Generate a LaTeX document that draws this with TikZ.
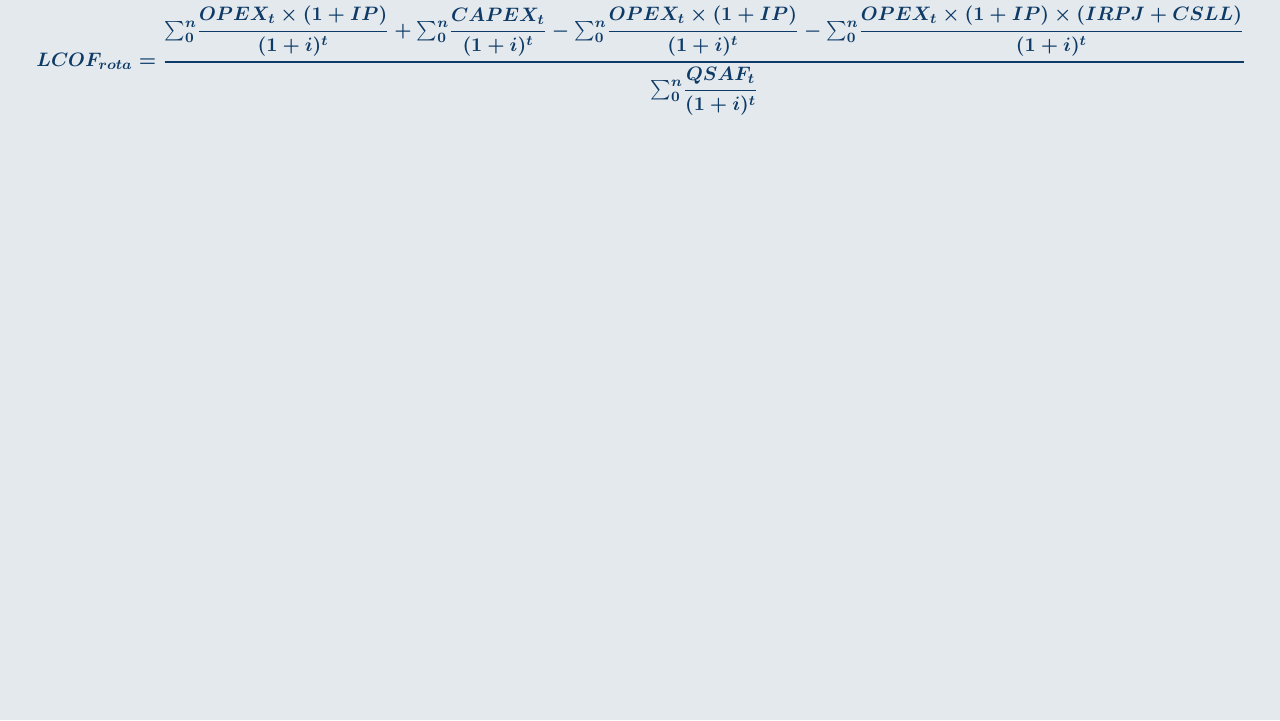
\documentclass[tikz,border=0pt]{standalone}
\usepackage{amsmath}

\definecolor{bgcolor}{HTML}{E4E9ED}
\definecolor{inkblue}{HTML}{0D3A66}

\newcommand{\sumzn}{{\textstyle\sum_{0}^{n}}}
\newcommand{\barfrac}[2]{\genfrac{}{}{0.9pt}{0}{#1}{#2}}

\begin{document}
\begin{tikzpicture}[x = 0.02cm, y = -0.02cm, font = \fontsize{10.95}{13}\selectfont\boldmath]
	
	% Background
	
	\fill [bgcolor] (0, 0) rectangle (1280, 720);
	
	% Formula
	
	\node (lcof) [anchor = west, inner sep = 0, text = inkblue, scale = 1.01, transform shape] at (36, 61) {$
		LCOF_{rota} = \barfrac{
			\sumzn \barfrac{OPEX_t \times (1 + IP)}{(1 + i)^t}
			+ \sumzn \barfrac{CAPEX_t}{(1 + i)^t}
			- \sumzn \barfrac{OPEX_t \times (1 + IP)}{(1 + i)^t}
			- \sumzn \barfrac{OPEX_t \times (1 + IP) \times (IRPJ + CSLL)}{(1 + i)^t}
		}{
			\sumzn \barfrac{QSAF_t}{(1 + i)^t}
		}
	$};

\end{tikzpicture}
\end{document}
